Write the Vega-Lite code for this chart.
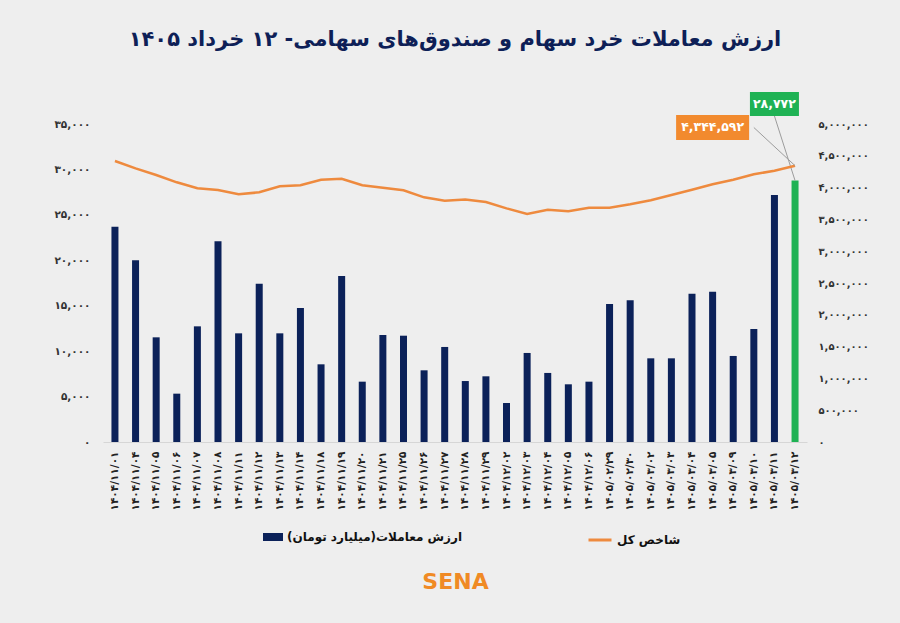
{
  "$schema": "https://vega.github.io/schema/vega-lite/v6.json",
  "width": 704,
  "height": 318,
  "autosize": {"type": "none"},
  "padding": {"top": 124, "left": 103, "right": 93, "bottom": 181},
  "background": "#eeeeee",
  "config": {
    "view": {"stroke": null},
    "font": "DejaVu Sans",
    "axis": {"grid": false}
  },
  "title": {
    "text": "ارزش معاملات خرد سهام و صندوق‌های سهامی- ۱۲ خرداد ۱۴۰۵",
    "fontSize": 21,
    "fontWeight": "bold",
    "color": "#0e1f57",
    "anchor": "middle",
    "offset": 42
  },
  "datasets": {
    "trades": [
      {"d": "۱۴۰۴/۱۱/۰۱", "v": 23700, "idx": 4418000},
      {"d": "۱۴۰۴/۱۱/۰۴", "v": 20000, "idx": 4303000},
      {"d": "۱۴۰۴/۱۱/۰۵", "v": 11520, "idx": 4198000},
      {"d": "۱۴۰۴/۱۱/۰۶", "v": 5320, "idx": 4083000},
      {"d": "۱۴۰۴/۱۱/۰۷", "v": 12730, "idx": 3989000},
      {"d": "۱۴۰۴/۱۱/۰۸", "v": 22090, "idx": 3962000},
      {"d": "۱۴۰۴/۱۱/۱۱", "v": 11960, "idx": 3894000},
      {"d": "۱۴۰۴/۱۱/۱۲", "v": 17430, "idx": 3926000},
      {"d": "۱۴۰۴/۱۱/۱۳", "v": 11960, "idx": 4020000},
      {"d": "۱۴۰۴/۱۱/۱۴", "v": 14750, "idx": 4036000},
      {"d": "۱۴۰۴/۱۱/۱۸", "v": 8550, "idx": 4124000},
      {"d": "۱۴۰۴/۱۱/۱۹", "v": 18270, "idx": 4140000},
      {"d": "۱۴۰۴/۱۱/۲۰", "v": 6640, "idx": 4036000},
      {"d": "۱۴۰۴/۱۱/۲۱", "v": 11780, "idx": 3999000},
      {"d": "۱۴۰۴/۱۱/۲۵", "v": 11700, "idx": 3957000},
      {"d": "۱۴۰۴/۱۱/۲۶", "v": 7890, "idx": 3847000},
      {"d": "۱۴۰۴/۱۱/۲۷", "v": 10460, "idx": 3792000},
      {"d": "۱۴۰۴/۱۱/۲۸", "v": 6710, "idx": 3811000},
      {"d": "۱۴۰۴/۱۱/۲۹", "v": 7230, "idx": 3773000},
      {"d": "۱۴۰۴/۱۲/۰۲", "v": 4290, "idx": 3674000},
      {"d": "۱۴۰۴/۱۲/۰۳", "v": 9800, "idx": 3585000},
      {"d": "۱۴۰۴/۱۲/۰۴", "v": 7600, "idx": 3653000},
      {"d": "۱۴۰۴/۱۲/۰۵", "v": 6350, "idx": 3627000},
      {"d": "۱۴۰۴/۱۲/۰۶", "v": 6640, "idx": 3684000},
      {"d": "۱۴۰۵/۰۲/۲۹", "v": 15190, "idx": 3684000},
      {"d": "۱۴۰۵/۰۲/۳۰", "v": 15600, "idx": 3737000},
      {"d": "۱۴۰۵/۰۳/۰۲", "v": 9210, "idx": 3800000},
      {"d": "۱۴۰۵/۰۳/۰۳", "v": 9210, "idx": 3884000},
      {"d": "۱۴۰۵/۰۳/۰۴", "v": 16330, "idx": 3967000},
      {"d": "۱۴۰۵/۰۳/۰۵", "v": 16550, "idx": 4052000},
      {"d": "۱۴۰۵/۰۳/۰۹", "v": 9470, "idx": 4124000},
      {"d": "۱۴۰۵/۰۳/۱۰", "v": 12440, "idx": 4209000},
      {"d": "۱۴۰۵/۰۳/۱۱", "v": 27190, "idx": 4266000},
      {"d": "۱۴۰۵/۰۳/۱۲", "v": 28772, "idx": 4344592}
    ],
    "gbox": [{"d": "۱۴۰۵/۰۳/۱۱", "v": 35880, "v2": 38520}],
    "gtext": [{"d": "۱۴۰۵/۰۳/۱۱", "v": 37200, "t": "۲۸,۷۷۲"}],
    "gleader": [{"d": "۱۴۰۵/۰۳/۱۱", "v": 35880}, {"d": "۱۴۰۵/۰۳/۱۲", "v": 28772}],
    "obox": [{"d": "۱۴۰۵/۰۳/۰۵", "idx": 4748000, "idx2": 5141000}],
    "otext": [{"d": "۱۴۰۵/۰۳/۰۵", "idx": 4945000, "t": "۴,۳۴۴,۵۹۲"}],
    "oleader": [{"d": "۱۴۰۵/۰۳/۱۰", "idx": 4945000}, {"d": "۱۴۰۵/۰۳/۱۲", "idx": 4344592}]
  },
  "encoding": {
    "x": {
      "field": "d",
      "type": "nominal",
      "sort": null,
      "scale": {
        "domain": ["۱۴۰۴/۱۱/۰۱", "۱۴۰۴/۱۱/۰۴", "۱۴۰۴/۱۱/۰۵", "۱۴۰۴/۱۱/۰۶", "۱۴۰۴/۱۱/۰۷", "۱۴۰۴/۱۱/۰۸", "۱۴۰۴/۱۱/۱۱", "۱۴۰۴/۱۱/۱۲", "۱۴۰۴/۱۱/۱۳", "۱۴۰۴/۱۱/۱۴", "۱۴۰۴/۱۱/۱۸", "۱۴۰۴/۱۱/۱۹", "۱۴۰۴/۱۱/۲۰", "۱۴۰۴/۱۱/۲۱", "۱۴۰۴/۱۱/۲۵", "۱۴۰۴/۱۱/۲۶", "۱۴۰۴/۱۱/۲۷", "۱۴۰۴/۱۱/۲۸", "۱۴۰۴/۱۱/۲۹", "۱۴۰۴/۱۲/۰۲", "۱۴۰۴/۱۲/۰۳", "۱۴۰۴/۱۲/۰۴", "۱۴۰۴/۱۲/۰۵", "۱۴۰۴/۱۲/۰۶", "۱۴۰۵/۰۲/۲۹", "۱۴۰۵/۰۲/۳۰", "۱۴۰۵/۰۳/۰۲", "۱۴۰۵/۰۳/۰۳", "۱۴۰۵/۰۳/۰۴", "۱۴۰۵/۰۳/۰۵", "۱۴۰۵/۰۳/۰۹", "۱۴۰۵/۰۳/۱۰", "۱۴۰۵/۰۳/۱۱", "۱۴۰۵/۰۳/۱۲"],
        "paddingInner": 0.66,
        "paddingOuter": 0.41
      },
      "axis": {
        "title": "SENA",
        "titleColor": "#f08a24",
        "titleFontSize": 22,
        "titleFontWeight": "bold",
        "titlePadding": 62,
        "labelAngle": -90,
        "labelFontSize": 10.5,
        "labelFontWeight": "bold",
        "labelColor": "#222222",
        "labelPadding": 9,
        "ticks": false,
        "domainColor": "#d6d6d6"
      }
    }
  },
  "layer": [
    {
      "encoding": {
        "y": {
          "field": "v",
          "type": "quantitative",
          "title": null,
          "scale": {"domain": [0, 35000], "nice": false},
          "axis": {
            "orient": "left",
            "title": null,
            "values": [0, 5000, 10000, 15000, 20000, 25000, 30000, 35000],
            "labelExpr": "replace(replace(replace(replace(replace(replace(replace(replace(replace(replace(format(datum.value,','),regexp('0','g'),'۰'),regexp('1','g'),'۱'),regexp('2','g'),'۲'),regexp('3','g'),'۳'),regexp('4','g'),'۴'),regexp('5','g'),'۵'),regexp('6','g'),'۶'),regexp('7','g'),'۷'),regexp('8','g'),'۸'),regexp('9','g'),'۹')",
            "domain": false,
            "ticks": false,
            "labelPadding": 13,
            "labelFontSize": 10.5,
            "labelFontWeight": "bold",
            "labelColor": "#333333"
          }
        }
      },
      "layer": [
        {
          "data": {"name": "trades"},
          "mark": {"type": "bar"},
          "encoding": {
            "fill": {
              "condition": {"test": "datum.d === '۱۴۰۵/۰۳/۱۲'", "value": "#1fb254"},
              "datum": "ارزش معاملات(میلیارد تومان)‏",
              "type": "nominal",
              "scale": {"range": ["#0b2159"]},
              "legend": {
                "orient": "none",
                "legendX": 160,
                "legendY": 403,
                "title": null,
                "symbolType": "M-1,-0.4L1,-0.4L1,0.4L-1,0.4Z",
                "symbolSize": 400,
                "symbolStrokeWidth": 0,
                "labelFontSize": 12,
                "labelFontWeight": "bold",
                "labelColor": "#111111",
                "labelLimit": 400
              }
            }
          }
        },
        {
          "data": {"name": "gleader"},
          "mark": {"type": "line", "color": "#9c9c9c", "strokeWidth": 1}
        },
        {
          "data": {"name": "gbox"},
          "mark": {"type": "bar", "width": 49, "color": "#1fb254"},
          "encoding": {"y2": {"field": "v2"}}
        },
        {
          "data": {"name": "gtext"},
          "mark": {"type": "text", "color": "white", "fontSize": 12.5, "fontWeight": "bold", "baseline": "middle"},
          "encoding": {"text": {"field": "t"}}
        }
      ]
    },
    {
      "encoding": {
        "y": {
          "field": "idx",
          "type": "quantitative",
          "title": null,
          "scale": {"domain": [0, 5000000], "nice": false},
          "axis": {
            "orient": "right",
            "title": null,
            "values": [0, 500000, 1000000, 1500000, 2000000, 2500000, 3000000, 3500000, 4000000, 4500000, 5000000],
            "labelExpr": "replace(replace(replace(replace(replace(replace(replace(replace(replace(replace(format(datum.value,','),regexp('0','g'),'۰'),regexp('1','g'),'۱'),regexp('2','g'),'۲'),regexp('3','g'),'۳'),regexp('4','g'),'۴'),regexp('5','g'),'۵'),regexp('6','g'),'۶'),regexp('7','g'),'۷'),regexp('8','g'),'۸'),regexp('9','g'),'۹')",
            "domain": false,
            "ticks": false,
            "labelPadding": 11,
            "labelFontSize": 10,
            "labelFontWeight": "bold",
            "labelColor": "#333333"
          }
        }
      },
      "layer": [
        {
          "data": {"name": "trades"},
          "mark": {"type": "line", "strokeWidth": 2.5},
          "encoding": {
            "stroke": {
              "datum": "شاخص کل",
              "type": "nominal",
              "scale": {"range": ["#ee8a3e"]},
              "legend": {
                "orient": "none",
                "legendX": 484,
                "legendY": 403,
                "title": null,
                "symbolType": "stroke",
                "symbolSize": 529,
                "symbolStrokeWidth": 3,
                "labelFontSize": 12,
                "labelFontWeight": "bold",
                "labelColor": "#111111"
              }
            }
          }
        },
        {
          "data": {"name": "oleader"},
          "mark": {"type": "line", "color": "#9c9c9c", "strokeWidth": 1}
        },
        {
          "data": {"name": "obox"},
          "mark": {"type": "bar", "width": 73, "color": "#f28a2e"},
          "encoding": {"y2": {"field": "idx2"}}
        },
        {
          "data": {"name": "otext"},
          "mark": {"type": "text", "color": "white", "fontSize": 12.5, "fontWeight": "bold", "baseline": "middle"},
          "encoding": {"text": {"field": "t"}}
        }
      ]
    }
  ],
  "resolve": {"scale": {"y": "independent"}}
}
